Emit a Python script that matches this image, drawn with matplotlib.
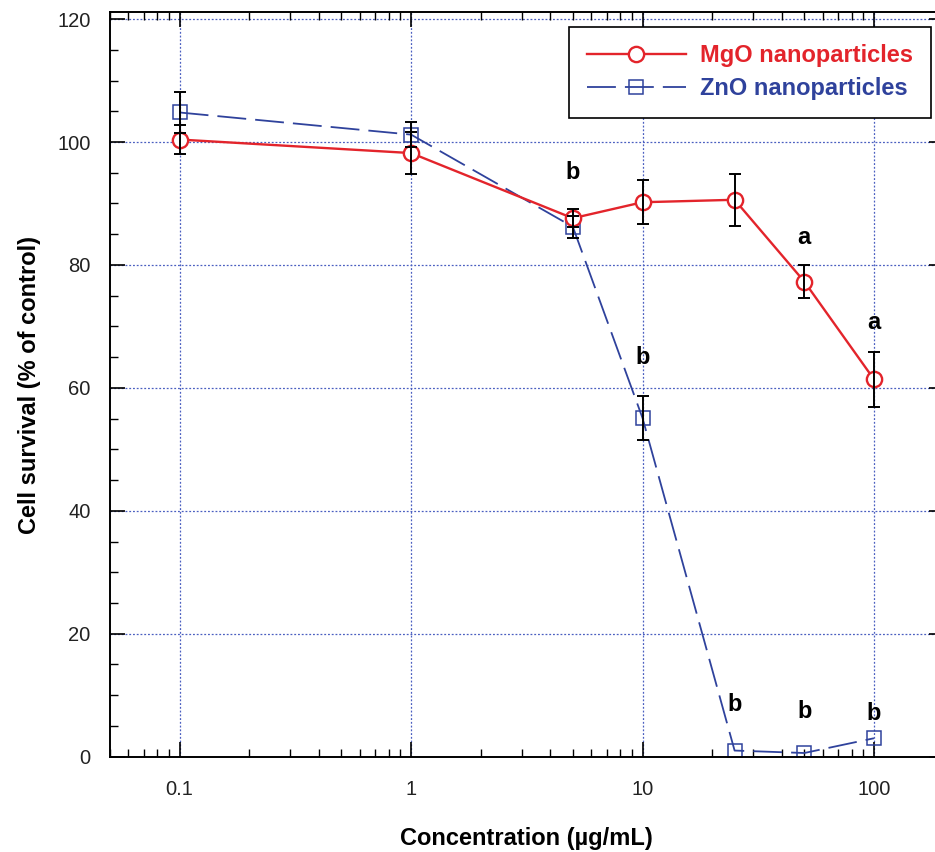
import matplotlib
matplotlib.use("Agg")
import matplotlib.pyplot as plt
from matplotlib.ticker import FixedLocator, NullFormatter, MultipleLocator

plt.rcParams['font.family'] = ['Liberation Sans', 'DejaVu Sans']

# ---- data ----
conc = [0.1, 1, 5, 10, 25, 50, 100]
mgo = [100.4, 98.2, 87.6, 90.2, 90.6, 77.3, 61.4]
mgo_err = [2.3, 3.4, 1.5, 3.6, 4.2, 2.7, 4.5]
zno = [104.8, 101.2, 86.2, 55.1, 1.0, 0.6, 3.0]
zno_err = [3.3, 2.0, 1.8, 3.5, 0.0, 0.0, 0.0]
mgo_sig = ['', '', '', '', '', 'a', 'a']
zno_sig = ['', '', 'b', 'b', 'b', 'b', 'b']
xticks = [0.1, 1, 10, 100]
xticklabels = ['0.1', '1', '10', '100']
yticks = [0, 20, 40, 60, 80, 100, 120]

RED = '#E3242B'
BLUE = '#2F429C'
GRID = '#4A5FC0'

W, H = 935, 852
fig = plt.figure(figsize=(W / 100, H / 100), dpi=100)
ax = fig.add_axes([110 / W, 1 - 756.7 / H, (943.6 - 110) / W, (756.7 - 12.3) / H])
ax.set_xscale('log')
ax.set_xlim(0.05, 200)
ax.set_ylim(0, 121.1)

# grid
for xv in xticks:
    ax.axvline(xv, color=GRID, lw=0.9, ls=(0, (1.5, 1.5)), zorder=0)
for yv in yticks[1:]:
    ax.axhline(yv, color=GRID, lw=0.9, ls=(0, (1.5, 1.5)), zorder=0)

# lines
ax.plot(conc, mgo, color=RED, lw=1.7, marker='o', ms=11, mfc='white',
        mec=RED, mew=1.7, zorder=3, label='MgO nanoparticles')
ax.plot(conc, zno, color=BLUE, lw=1.3, ls=(0, (16, 5)), marker='s', ms=10.5,
        mfc='none', mec=BLUE, mew=1.1, zorder=2, label='ZnO nanoparticles')

# error bars
ax.errorbar(conc, mgo, yerr=mgo_err, fmt='none', ecolor='black',
            elinewidth=1.4, capsize=4.5, capthick=1.4, zorder=4)
zx = [c for c, e in zip(conc, zno_err) if e > 0]
zy = [v for v, e in zip(zno, zno_err) if e > 0]
ze = [e for e in zno_err if e > 0]
ax.errorbar(zx, zy, yerr=ze, fmt='none', ecolor='black',
            elinewidth=1.4, capsize=4.5, capthick=1.4, zorder=4)

# significance letters (offset in points above error bar top)
mgo_off = [0, 0, 0, 0, 0, 20, 21]
zno_off = [0, 0, 26, 28, 33, 30, 18]
for c, v, e, s, o in zip(conc, mgo, mgo_err, mgo_sig, mgo_off):
    if s:
        ax.annotate(s, (c, v + e), xytext=(0, o), textcoords='offset points',
                    ha='center', va='center', fontsize=17, fontweight='bold')
for i, (c, v, e, s, o) in enumerate(zip(conc, zno, zno_err, zno_sig, zno_off)):
    if s:
        top = max(v + e, mgo[i] + mgo_err[i]) if i == 2 else v + e
        ax.annotate(s, (c, top), xytext=(0, o), textcoords='offset points',
                    ha='center', va='center', fontsize=17, fontweight='bold')

# ticks
ax.xaxis.set_major_locator(FixedLocator(xticks))
ax.set_xticklabels(xticklabels)
ax.xaxis.set_minor_locator(FixedLocator(
    [m * 10 ** d for d in range(-2, 3) for m in range(2, 10)]))
ax.xaxis.set_minor_formatter(NullFormatter())
ax.set_yticks(yticks)
ax.yaxis.set_minor_locator(MultipleLocator(5))
ax.tick_params(which='both', direction='in', top=True, right=True, colors='black')
ax.tick_params(which='major', length=11, width=1.2, labelsize=14.5, labelcolor='#222222')
ax.tick_params(which='minor', length=6, width=1.0)
ax.tick_params(axis='x', which='major', pad=17)
ax.tick_params(axis='y', which='major', pad=14)
for sp in ax.spines.values():
    sp.set_linewidth(1.4)

ax.set_xlabel('Concentration (µg/mL)', fontsize=17, fontweight='bold', labelpad=20)
ax.set_ylabel('Cell survival (% of control)', fontsize=17, fontweight='bold', labelpad=12)

leg = ax.legend(loc='upper right', bbox_to_anchor=((930.7 - 110) / (943.6 - 110), 1 - (26.7 - 12.3) / (756.7 - 12.3)),
                borderaxespad=0, fancybox=False, framealpha=1, edgecolor='black',
                handlelength=4.2, prop={'size': 17, 'weight': 'bold'},
                borderpad=0.75, labelspacing=0.4, handletextpad=0.6)
leg.get_frame().set_linewidth(1.2)
for t, col in zip(leg.get_texts(), [RED, BLUE]):
    t.set_color(col)

fig.savefig('out.png', dpi=100)
